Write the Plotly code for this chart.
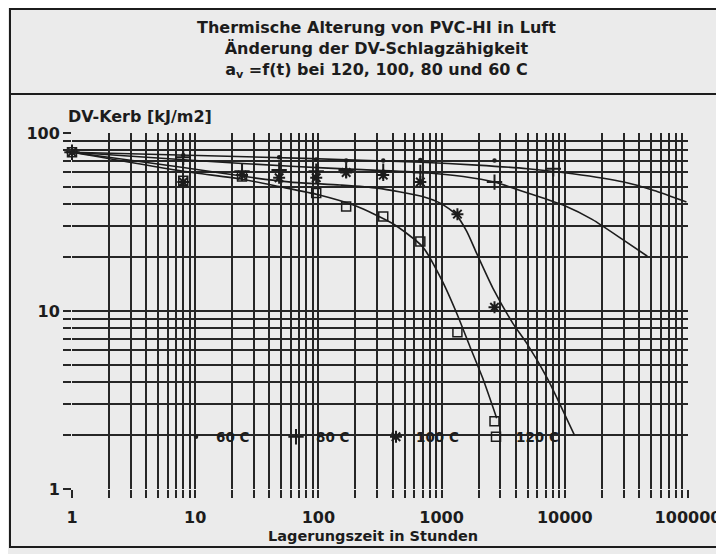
import plotly.graph_objects as go

# ---------------- data ----------------
# measured points: Lagerungszeit [h] / DV-Kerb [kJ/m2]
t60 = [1, 8, 48, 96, 168, 336, 672, 2688]
v60 = [78, 75, 73, 71, 70, 70, 70.5, 70]

t80 = [1, 8, 24, 48, 96, 168, 336, 672, 2688, 8064]
v80 = [78, 73, 61, 62, 61, 62, 61, 60, 53, 63]

t100 = [1, 8, 24, 48, 96, 168, 336, 672, 1344, 2688]
v100 = [78, 53, 58, 56, 56, 60, 58, 53, 35, 10.5]

t120 = [1, 8, 24, 96, 168, 336, 672, 1344, 2688]
v120 = [78, 54, 57, 46, 38.6, 34, 24.6, 7.6, 2.4]

# fitted curves
c60_t = [1, 10, 100, 1000, 3000, 8200, 20000, 55000, 100000, 190000]
c60_v = [78, 75, 72, 68.5, 66, 63, 59, 53, 47.5, 41]

c80_t = [1, 10, 60, 200, 700, 1500, 2688, 5000, 10000, 16800, 30000, 46800]
c80_v = [78, 70, 65, 62.5, 60, 57, 53, 46, 39, 32.6, 25, 20.3]

c100_t = [1, 8, 30, 60, 150, 300, 700, 1000, 1300, 1600, 1930, 2600, 3800, 4900, 7200, 12000]
c100_v = [78, 64, 56, 53, 51, 49, 44, 40, 35, 28, 21, 13.5, 8.5, 6.6, 4.2, 2.0]

c120_t = [1, 8, 24, 48, 100, 200, 400, 700, 1000, 1344, 1700, 2155, 2800]
c120_v = [78, 61, 55, 50, 45, 39, 31, 23, 15, 9.5, 6.3, 4.2, 2.5]

series_names = ["60 C", "80 C", "100 C", "120 C"]

x_decades = [1, 10, 100, 1000, 10000, 100000]
x_labels = ["1", "10", "100", "1000", "10000", "100000"]
y_decades = [1, 10, 100]
y_labels = ["1", "10", "100"]
minor_digits = [2, 3, 4, 5, 6, 7, 8, 9]

title_lines = ["Thermische Alterung von PVC-HI in Luft",
               "Änderung der DV-Schlagzähigkeit",
               "a<sub>v</sub> =f(t) bei 120, 100, 80 und 60 C"]
y_title = "DV-Kerb [kJ/m2]"
x_title = "Lagerungszeit in Stunden"

# ---------------- styling / geometry ----------------
FONT = "DejaVu Sans"
INK = "#1c1c1c"
GRID = "#262626"
BG = "#ebebeb"

OFF = 8                      # page body margin seen in the screenshot
W, H = 724 - OFF, 554 - OFF  # figure size
# screen positions of the plot box
SX_LEFT, SX_GRID_RIGHT, SY_TOP, SY_BOTTOM = 72, 688, 133, 489
ML = SX_LEFT - OFF
MT = SY_TOP - OFF
MB = H - (SY_BOTTOM - OFF)
MR = 0
PW = W - ML - MR
PH = H - MT - MB
GRID_DOMAIN = (SX_GRID_RIGHT - SX_LEFT) / PW
N_DEC_X = 5
X2MAX = N_DEC_X / GRID_DOMAIN  # extended log range for the overflow axis


def sx(px):
    return (px - OFF - ML) / PW


def sy(py):
    return (H - MB - (py - OFF)) / PH


x_minor = [d * k for d in x_decades[:-1] for k in minor_digits]
y_minor = [d * k for d in y_decades[:-1] for k in minor_digits]

fig = go.Figure()

line_style = dict(color=INK, width=1.6, shape="spline", smoothing=0.6)
curves = [(c60_t, c60_v), (c80_t, c80_v), (c100_t, c100_v), (c120_t, c120_v)]
for i, (ct, cv) in enumerate(curves):
    # the 60 C curve runs past the grid on the reference -> overflow axis x2
    fig.add_trace(go.Scatter(x=ct, y=cv, mode="lines", line=line_style,
                             xaxis="x2" if i == 0 else "x", yaxis="y",
                             showlegend=False, hoverinfo="skip"))

markers = [
    dict(symbol="circle", size=4.5, color=INK),
    dict(symbol="cross-thin-open", size=11, color=INK, line=dict(color=INK, width=2)),
    dict(symbol="asterisk-open", size=10, color=INK, line=dict(color=INK, width=2)),
    dict(symbol="square-open", size=9, color=INK, line=dict(color=INK, width=1.5)),
]
for (tt, vv), name, mk in zip([(t60, v60), (t80, v80), (t100, v100), (t120, v120)],
                               series_names, markers):
    fig.add_trace(go.Scatter(x=tt, y=vv, mode="markers", name=name, marker=mk,
                             cliponaxis=False))

tickfont = dict(family=FONT, size=16, color=INK, weight="bold")
minor_common = dict(tickmode="array", showgrid=True, gridcolor=GRID, gridwidth=1.8,
                    ticks="outside", ticklen=8, tickwidth=1.8, tickcolor=GRID)
axis_common = dict(
    type="log", showgrid=True, gridcolor=GRID, gridwidth=1.8,
    ticks="outside", ticklen=8, tickwidth=1.8, tickcolor=GRID,
    showline=False, zeroline=False, tickfont=tickfont,
)
fig.update_layout(
    xaxis=dict(**axis_common, domain=[0, GRID_DOMAIN], range=[0, N_DEC_X],
               tickmode="array", tickvals=x_decades, ticktext=x_labels,
               ticklabelstandoff=6,
               minor=dict(**minor_common, tickvals=x_minor),
               anchor="y"),
    xaxis2=dict(type="log", domain=[0, 1], range=[0, X2MAX], overlaying="x",
                anchor="y", visible=False, showgrid=False),
    yaxis=dict(**axis_common, range=[0, 2], anchor="x",
               tickmode="array", tickvals=y_decades, ticktext=y_labels,
               minor=dict(**minor_common, tickvals=y_minor)),
)

shapes = [
    # outer frame
    dict(type="rect", xref="paper", yref="paper",
         x0=sx(10), x1=sx(740), y0=sy(547), y1=sy(9),
         line=dict(color=INK, width=2), fillcolor="rgba(0,0,0,0)", layer="above"),
    # separator below the title block
    dict(type="line", xref="paper", yref="paper",
         x0=sx(10), x1=sx(740), y0=sy(94), y1=sy(94),
         line=dict(color=INK, width=2), layer="above"),
]

annotations = [
    dict(text="<br>".join(title_lines), xref="paper", yref="paper",
         x=sx(376), y=sy(49), xanchor="center", yanchor="middle",
         showarrow=False, align="center",
         font=dict(family=FONT, size=16, color=INK, weight="bold")),
    dict(text=y_title, xref="paper", yref="paper",
         x=sx(66), y=sy(117), xanchor="left", yanchor="middle",
         showarrow=False, font=dict(family=FONT, size=16, color=INK, weight="bold")),
    dict(text=x_title, xref="paper", yref="paper",
         x=sx(373), y=sy(536), xanchor="center", yanchor="middle",
         showarrow=False, font=dict(family=FONT, size=14.5, color=INK, weight="bold")),
]

fig.update_layout(
    width=W, height=H,
    margin=dict(l=ML, r=MR, t=MT, b=MB, autoexpand=False),
    paper_bgcolor=BG, plot_bgcolor=BG,
    shapes=shapes, annotations=annotations,
    legend=dict(orientation="h", x=sx(176), xanchor="left",
                y=sy(437), yanchor="middle",
                bgcolor="rgba(0,0,0,0)", borderwidth=0,
                entrywidth=55, entrywidthmode="pixels", itemwidth=30,
                font=dict(family=FONT, size=13.5, color=INK, weight="bold")),
    font=dict(family=FONT, color=INK),
)

fig.write_html("out.html")
